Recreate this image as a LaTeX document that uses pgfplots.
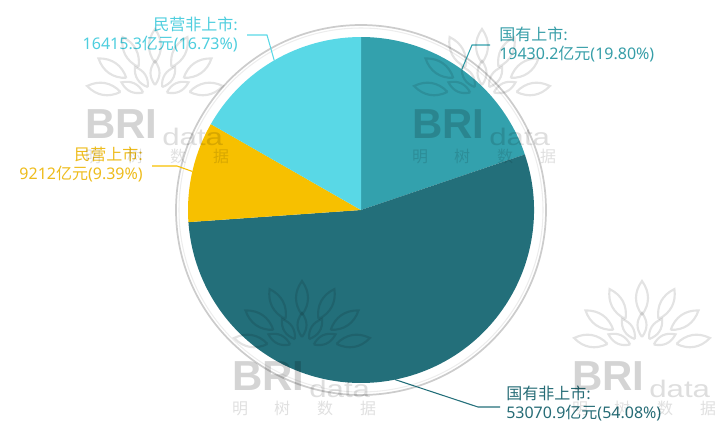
\documentclass[border=0pt]{standalone}
\usepackage{fontspec}
\setmainfont{Noto Sans}
\newfontfamily\cjk{Noto Sans CJK SC}
\newfontfamily\wmfont{Liberation Sans}
\usepackage{pgfplots}
\pgfplotsset{compat=1.18}

\definecolor{cA}{RGB}{51,161,173}
\definecolor{cB}{RGB}{35,111,122}
\definecolor{cC}{RGB}{247,192,0}
\definecolor{cD}{RGB}{89,216,230}
\definecolor{tA}{RGB}{55,158,168}
\definecolor{tB}{RGB}{38,108,118}
\definecolor{tC}{RGB}{238,188,28}
\definecolor{tD}{RGB}{78,206,222}

% values in 亿元
\def\vA{19430.2} % 国有上市
\def\vB{53070.9} % 国有非上市
\def\vC{9212}    % 民营上市
\def\vD{16415.3} % 民营非上市

% slice angles, clockwise from 12 o'clock
\edef\tot{\fpeval{\vA+\vB+\vC+\vD}}
\edef\aA{90}
\edef\aB{\fpeval{\aA-360*\vA/\tot}}
\edef\aC{\fpeval{\aB-360*\vB/\tot}}
\edef\aD{\fpeval{\aC-360*\vC/\tot}}
\edef\aE{\fpeval{\aD-360*\vD/\tot}}
\edef\mA{\fpeval{(\aA+\aB)/2}}
\edef\mB{\fpeval{(\aB+\aC)/2}}
\edef\mC{\fpeval{(\aC+\aD)/2}}
\edef\mD{\fpeval{(\aD+\aE)/2}}

% pie geometry in pixel units (axis: 0..715 x 0..430, 0.75pt per unit)
\def\cx{361}\def\cy{210}\def\R{173}\def\Rpt{129.75pt}

\newcommand\slice[3]{%
  \fill[#3] (axis cs:\cx,\cy) -- (axis cs:{\cx+\R*cos(#1)},{\cy-\R*sin(#1)})
    arc[start angle=#1, end angle=#2, radius=\Rpt] -- cycle;}

\newcommand\wm[2]{% BRI left, BRI baseline (pixels)
  \node[anchor=base west, inner sep=0, text=black, opacity=0.17,
    font=\wmfont\bfseries\fontsize{31.5}{31.5}\selectfont] at (#1,#2) {BRI};
  \node[anchor=base west, inner sep=0, text=black, opacity=0.13, xscale=1.3,
    font=\wmfont\fontsize{18}{18}\selectfont] at ({#1+77},{#2+7}) {data};
  \foreach \dx/\ch in {8/明,50/树,93/数,136/据}
    \node[anchor=base, inner sep=0, text=black, opacity=0.12,
      font=\cjk\fontsize{12}{12}\selectfont] at ({#1+\dx},{#2+24}) {\ch};
  \foreach \a in {10,35,62,90,118,145,170}
    \draw[black, opacity=0.11, line width=1.6pt,
      shift={({#1+70+52*cos(\a)},{#2-40-52*sin(\a)})}, rotate=\a]
      (-17,0) .. controls (-6,8) and (6,8) .. (17,0)
      .. controls (6,-8) and (-6,-8) .. (-17,0);
  \foreach \a in {25,57,90,123,155}
    \draw[black, opacity=0.11, line width=1.6pt,
      shift={({#1+70+25*cos(\a)},{#2-40-25*sin(\a)})}, rotate=\a]
      (-12,0) .. controls (-4,6) and (4,6) .. (12,0)
      .. controls (4,-6) and (-4,-6) .. (-12,0);
}

\begin{document}%
\begin{tikzpicture}
\begin{axis}[
    scale only axis,
    width=536.25pt, height=322.5pt,
    xmin=0, xmax=715, ymin=0, ymax=430,
    y dir=reverse,
    hide axis,
    clip=false]
  % outer ring
  \draw[black!20, line width=1.3pt] (axis cs:\cx,\cy) circle[radius=138.75pt];
  \draw[black!7, line width=0.8pt] (axis cs:\cx,\cy) circle[radius=136.5pt];
  % slices
  \slice{\aA}{\aB}{cA}
  \slice{\aB}{\aC}{cB}
  \slice{\aC}{\aD}{cC}
  \slice{\aD}{\aE}{cD}
  % leader lines
  \draw[cA, line width=0.8pt] (axis cs:{\cx+\R*cos(\mA)},{\cy-\R*sin(\mA)})
    -- (axis cs:472,45) -- (axis cs:490,45);
  \draw[cB, line width=0.8pt] (axis cs:{\cx+\R*cos(\mB)},{\cy-\R*sin(\mB)})
    -- (axis cs:478,407) -- (axis cs:500,407);
  \draw[cC, line width=0.8pt] (axis cs:{\cx+\R*cos(\mC)},{\cy-\R*sin(\mC)})
    -- (axis cs:177,166) -- (axis cs:152,166);
  \draw[cD, line width=0.8pt] (axis cs:{\cx+\R*cos(\mD)},{\cy-\R*sin(\mD)})
    -- (axis cs:267,35) -- (axis cs:247,35);
  % labels
  \node[anchor=north west, inner sep=0, align=left, text=tA,
    font=\fontsize{12}{14.25}\selectfont] at (axis cs:499,27)
    {{\cjk 国有上市:}\\19430.2{\cjk 亿元}(19.80\%)};
  \node[anchor=north west, inner sep=0, align=left, text=tB,
    font=\fontsize{12}{14.25}\selectfont] at (axis cs:506,386)
    {{\cjk 国有非上市:}\\53070.9{\cjk 亿元}(54.08\%)};
  \node[anchor=north east, inner sep=0, align=right, text=tC,
    font=\fontsize{12}{14.25}\selectfont] at (axis cs:143,147)
    {{\cjk 民营上市:}\\9212{\cjk 亿元}(9.39\%)};
  \node[anchor=north east, inner sep=0, align=right, text=tD,
    font=\fontsize{12}{14.25}\selectfont] at (axis cs:238,17)
    {{\cjk 民营非上市:}\\16415.3{\cjk 亿元}(16.73\%)};
\end{axis}
% watermarks, pixel coordinates with y downwards
\begin{scope}[x=0.75pt, y=-0.75pt, shift={(0,322.5pt)}]
  \wm{85}{138}
  \wm{412}{138}
  \wm{232}{390}
  \wm{572}{390}
\end{scope}
\pgfresetboundingbox
\path[use as bounding box] (0,0) rectangle (536.25pt,322.5pt);
\end{tikzpicture}%
\end{document}
